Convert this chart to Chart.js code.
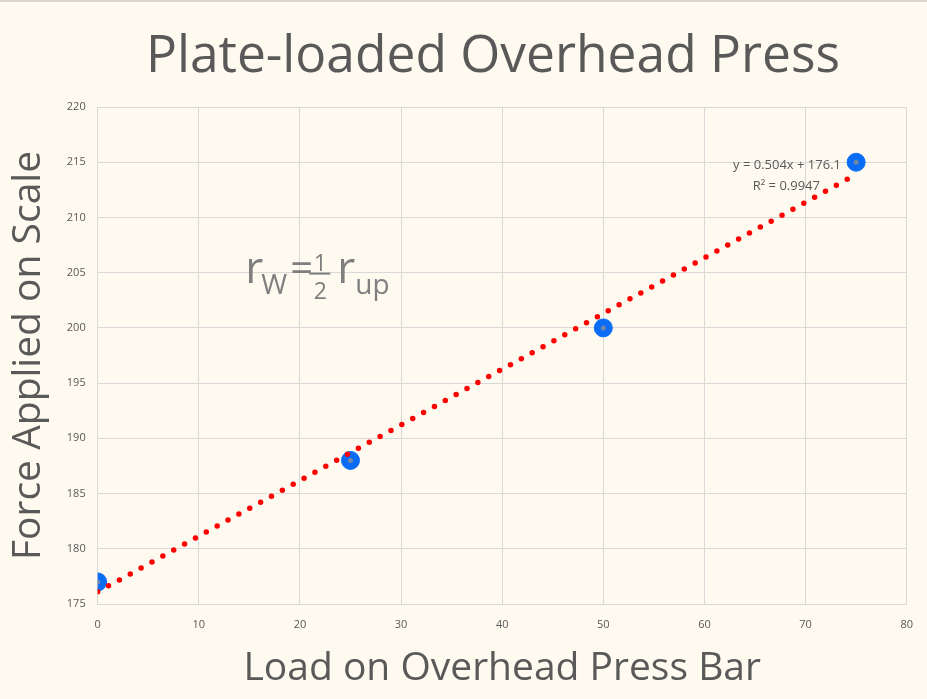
<!DOCTYPE html>
<html>
<head>
<meta charset="utf-8">
<script src="https://cdn.jsdelivr.net/npm/chart.js@4"></script>
<style>
  html, body { margin: 0; padding: 0; background: #fefaef; }
  #wrap { width: 927px; height: 699px; position: relative; border-top: 2px solid #d9d6cf; box-sizing: border-box; }
</style>
</head>
<body>
<div id="wrap"><canvas id="pressChart"></canvas></div>
<script>
  const loads = [0, 25, 50, 75];
  const forces = [177, 188, 200, 215];
  const trendX = [0, 75];
  const trendY = [176.1, 213.9];
  const xTicks = [0, 10, 20, 30, 40, 50, 60, 70, 80];
  const yTicks = [175, 180, 185, 190, 195, 200, 205, 210, 215, 220];

  const textColor = "#595959";
  const fontFam = "'Open Sans', 'Noto Sans', sans-serif";

  // title, trend equation and the radius note, drawn as free text
  const notesPlugin = {
    id: "notes",
    afterDatasetsDraw(chart) {
      const c = chart.ctx;
      const xs = chart.scales.x, ys = chart.scales.y;
      c.save();
      c.fillStyle = textColor;
      c.textAlign = "center";
      c.textBaseline = "alphabetic";
      c.font = "51.5px " + fontFam;
      c.fillText("Plate-loaded Overhead Press", 493, 70);

      c.textAlign = "right";
      c.textBaseline = "middle";
      c.font = "13px " + fontFam;
      const ex = xs.getPixelForValue(73.5);
      c.fillText("y = 0.504x + 176.1", ex, ys.getPixelForValue(214.7));
      c.fillText("R\u00B2 = 0.9947", ex - 21, ys.getPixelForValue(212.8));

      c.fillStyle = "#7f7f7f";
      c.strokeStyle = "#7f7f7f";
      c.textAlign = "left";
      c.textBaseline = "alphabetic";
      const x0 = xs.getPixelForValue(14.6);
      const base = ys.getPixelForValue(204.1);
      c.font = "44px " + fontFam;
      c.fillText("r", x0, base);
      c.font = "28px " + fontFam;
      c.fillText("W", x0 + 16, base + 11);
      c.font = "40px " + fontFam;
      c.fillText("=", x0 + 45, base - 1);
      c.font = "23px " + fontFam;
      c.textAlign = "center";
      c.fillText("1", x0 + 75, base - 12);
      c.fillText("2", x0 + 75, base + 16);
      c.lineWidth = 2;
      c.beginPath();
      c.moveTo(x0 + 64, base - 9);
      c.lineTo(x0 + 85, base - 9);
      c.stroke();
      c.textAlign = "left";
      c.font = "44px " + fontFam;
      c.fillText("r", x0 + 92, base);
      c.font = "28px " + fontFam;
      c.fillText("up", x0 + 110, base + 11);
      c.restore();
    }
  };

  new Chart(document.getElementById("pressChart"), {
    type: "scatter",
    data: {
      datasets: [
        {
          label: "Trend",
          type: "line",
          data: trendX.map((x, i) => ({ x: x, y: trendY[i] })),
          borderColor: "#ff0000",
          borderWidth: 5.5,
          borderDash: [0, 12.4],
          borderCapStyle: "round",
          pointRadius: 0,
          fill: false,
          order: 0,
        },
        {
          label: "Centre",
          data: loads.map((x, i) => ({ x: x, y: forces[i] })),
          backgroundColor: "#6f87a8",
          borderWidth: 0,
          pointRadius: 2.5,
          order: 1,
        },
        {
          label: "Force",
          data: loads.map((x, i) => ({ x: x, y: forces[i] })),
          backgroundColor: "#0a6cf5",
          borderColor: "#0a6cf5",
          pointRadius: 9,
          pointHoverRadius: 9,
          order: 2,
        },
      ],
    },
    options: {
      responsive: true,
      maintainAspectRatio: false,
      animation: false,
      layout: { padding: { left: 5, right: 20, top: 105, bottom: 7 } },
      plugins: {
        legend: { display: false },
        tooltip: { enabled: false },
      },
      scales: {
        x: {
          type: "linear",
          min: 0,
          max: 80,
          afterBuildTicks: (s) => { s.ticks = xTicks.map((v) => ({ value: v })); },
          grid: { color: "#d9d9d9", drawTicks: false },
          border: { color: "#d9d9d9" },
          ticks: { color: textColor, padding: 14, font: { family: fontFam, size: 11 } },
          title: {
            display: true,
            text: "Load on Overhead Press Bar",
            color: textColor,
            font: { family: fontFam, size: 39, weight: "normal" },
            padding: { top: 0, bottom: 0 },
          },
        },
        y: {
          min: 175,
          max: 220,
          afterBuildTicks: (s) => { s.ticks = yTicks.map((v) => ({ value: v })); },
          grid: { color: "#d9d9d9", drawTicks: false },
          border: { color: "#d9d9d9" },
          ticks: { color: textColor, padding: 12, font: { family: fontFam, size: 11 } },
          title: {
            display: true,
            text: "Force Applied on Scale",
            color: textColor,
            font: { family: fontFam, size: 39, weight: "normal" },
            padding: { top: 0, bottom: 3 },
          },
        },
      },
    },
    plugins: [notesPlugin],
  });
</script>
</body>
</html>
